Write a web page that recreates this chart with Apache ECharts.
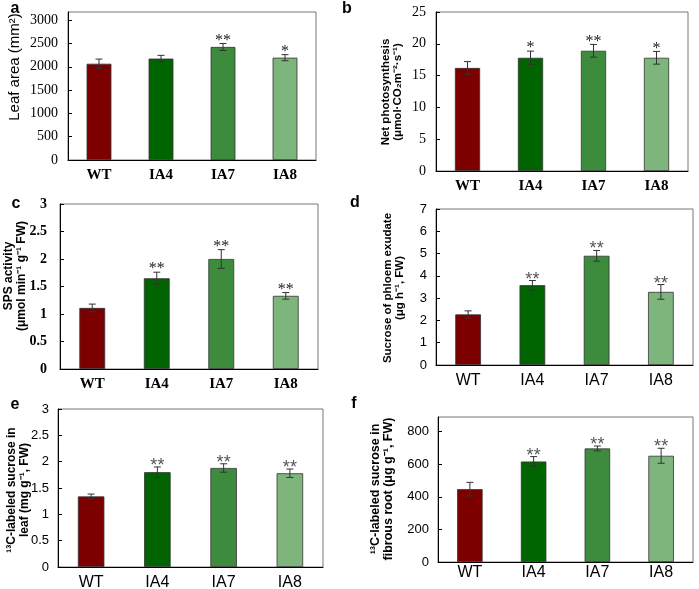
<!DOCTYPE html>
<html><head><meta charset="utf-8">
<script src="https://cdn.jsdelivr.net/npm/echarts@6/dist/echarts.min.js"></script>
<style>html,body{margin:0;padding:0;background:#fff}#c{width:699px;height:589px}</style>
</head><body><div id="c"></div>
<script>
const categories = ['WT', 'IA4', 'IA7', 'IA8'];
const barColors = ['#7d0000', '#006400', '#3d8c3d', '#7db57d'];

const leafArea = [2065, 2175, 2425, 2195];
const leafAreaErr = [100, 70, 75, 65];
const leafAreaSig = ['', '', '**', '*'];

const photosynthesis = [16.2, 17.8, 18.9, 17.8];
const photosynthesisErr = [1.0, 1.05, 1.0, 1.0];
const photosynthesisSig = ['', '*', '**', '*'];

const spsActivity = [1.11, 1.65, 2.0, 1.33];
const spsActivityErr = [0.07, 0.11, 0.17, 0.06];
const spsActivitySig = ['', '**', '**', '**'];

const phloemSucrose = [2.27, 3.58, 4.9, 3.28];
const phloemSucroseErr = [0.16, 0.21, 0.24, 0.33];
const phloemSucroseSig = ['', '**', '**', '**'];

const leafC13 = [1.34, 1.8, 1.88, 1.78];
const leafC13Err = [0.045, 0.1, 0.08, 0.08];
const leafC13Sig = ['', '**', '**', '**'];

const rootC13 = [447, 617, 697, 652];
const rootC13Err = [42, 30, 15, 46];
const rootC13Sig = ['', '**', '**', '**'];

const SERIF = '"Liberation Serif", "Times New Roman", serif';
const SANS = '"Liberation Sans", Arial, sans-serif';

const panels = [
  {vals: leafArea, err: leafAreaErr, sig: leafAreaSig, max: 3175, interval: 500,
   grid: {left: 68, top: 12, width: 248, height: 148}, font: SERIF, tickW: 'normal', tickSize: 14,
   catSize: 15, catW: 'bold', catMargin: 8, starFont: '16px ' + SERIF, starColor: '#222', starOff: 3, labelMargin: 10},
  {vals: photosynthesis, err: photosynthesisErr, sig: photosynthesisSig, max: 25, interval: 5,
   grid: {left: 436, top: 12, width: 252, height: 159}, font: SERIF, tickW: 'normal', tickSize: 14,
   catSize: 15, catW: 'bold', catMargin: 8, starFont: '16px ' + SERIF, starColor: '#222', starOff: 3, labelMargin: 10},
  {vals: spsActivity, err: spsActivityErr, sig: spsActivitySig, max: 3, interval: 0.5,
   grid: {left: 60, top: 204, width: 258, height: 165}, font: SERIF, tickW: 'bold', tickSize: 14,
   catSize: 15, catW: 'bold', catMargin: 8, starFont: '16px ' + SERIF, starColor: '#222', starOff: 3, labelMargin: 13},
  {vals: phloemSucrose, err: phloemSucroseErr, sig: phloemSucroseSig, max: 7, interval: 1,
   grid: {left: 436, top: 209, width: 257, height: 156}, font: SANS, tickW: 'normal', tickSize: 13,
   catSize: 16, catW: 'normal', catMargin: 8, starFont: '18px ' + SANS, starColor: '#555', starOff: 1, labelMargin: 9},
  {vals: leafC13, err: leafC13Err, sig: leafC13Sig, max: 3, interval: 0.5,
   grid: {left: 58, top: 409, width: 265, height: 158}, font: SANS, tickW: 'normal', tickSize: 13,
   catSize: 16, catW: 'normal', catMargin: 8, starFont: '18px ' + SANS, starColor: '#555', starOff: 1, labelMargin: 9},
  {vals: rootC13, err: rootC13Err, sig: rootC13Sig, max: 890, interval: 200,
   grid: {left: 438, top: 417, width: 255, height: 145}, font: SANS, tickW: 'normal', tickSize: 13,
   catSize: 16, catW: 'normal', catMargin: 3, starFont: '18px ' + SANS, starColor: '#555', starOff: 1, labelMargin: 9}
];

const grids = [], xAxes = [], yAxes = [], series = [];
panels.forEach((p, k) => {
  grids.push(Object.assign({show: true, borderColor: '#777', borderWidth: 1, containLabel: false, outerBoundsMode: 'none'}, p.grid));
  xAxes.push({
    type: 'category', gridIndex: k, data: categories,
    axisLine: {lineStyle: {color: '#000', width: 1}},
    axisTick: {inside: true, length: 4, lineStyle: {color: '#000'}},
    axisLabel: {color: '#000', fontFamily: p.font, fontSize: p.catSize, fontWeight: p.catW, margin: p.catMargin}
  });
  yAxes.push({
    type: 'value', gridIndex: k, min: 0, max: p.max, interval: p.interval,
    splitLine: {show: false},
    axisLine: {show: true, lineStyle: {color: '#000', width: 1}},
    axisTick: {show: true, inside: true, length: 4, lineStyle: {color: '#000'}},
    axisLabel: {color: '#000', fontFamily: p.font, fontSize: p.tickSize, fontWeight: p.tickW,
      margin: p.labelMargin, showMaxLabel: (p.max % p.interval === 0),
      formatter: function (v) { return String(+v.toFixed(2)); }}
  });
  series.push({
    type: 'bar', xAxisIndex: k, yAxisIndex: k, barWidth: '40%', silent: true,
    data: p.vals.map((v, i) => ({value: v, itemStyle: {color: barColors[i]}})),
    itemStyle: {borderColor: '#333', borderWidth: 0.8}
  });
  const sigs = p.sig;
  series.push({
    type: 'custom', xAxisIndex: k, yAxisIndex: k, silent: true, z: 5,
    data: p.vals.map((v, i) => [i, v, p.err[i]]),
    renderItem: function (params, api) {
      const i = api.value(0), v = api.value(1), e = api.value(2);
      const top = api.coord([i, v + e]);
      const bot = api.coord([i, v - e]);
      const x = top[0], c = 3.5;
      const ls = {stroke: '#333', lineWidth: 1};
      const children = [
        {type: 'line', shape: {x1: x, y1: top[1], x2: x, y2: bot[1]}, style: ls},
        {type: 'line', shape: {x1: x - c, y1: top[1], x2: x + c, y2: top[1]}, style: ls},
        {type: 'line', shape: {x1: x - c, y1: bot[1], x2: x + c, y2: bot[1]}, style: ls}
      ];
      const s = sigs[params.dataIndex];
      if (s) {
        children.push({type: 'text', x: x, y: top[1] - p.starOff,
          style: {text: s, font: p.starFont, fill: p.starColor, align: 'center', verticalAlign: 'middle',
                  textAlign: 'center', textVerticalAlign: 'middle'}});
      }
      return {type: 'group', children: children};
    }
  });
});

function vtext(x, y, text, font) {
  return {type: 'text', x: x, y: y, rotation: Math.PI / 2,
    style: {text: text, font: font, fill: '#000', align: 'center', verticalAlign: 'middle',
            textAlign: 'center', textVerticalAlign: 'middle'}};
}
function letter(x, y, t) {
  return {type: 'text', x: x, y: y,
    style: {text: t, font: 'bold 16px ' + SANS, fill: '#000', align: 'center', verticalAlign: 'middle',
            textAlign: 'center', textVerticalAlign: 'middle'}};
}
const B12 = 'bold 11.5px ' + SANS;
const graphics = [
  letter(15, 9, 'a'), letter(347, 9, 'b'), letter(16, 204, 'c'),
  letter(355, 203, 'd'), letter(15, 405, 'e'), letter(354, 404, 'f'),
  vtext(15, 67, 'Leaf area (mm²)', '15px ' + SANS),
  vtext(386, 92, 'Net photosynthesis', B12),
  vtext(398, 92, '(μmol·CO₂m⁻²·s⁻¹)', B12),
  vtext(9, 276, 'SPS activity', 'bold 12px ' + SANS),
  vtext(22, 276, '(μmol min⁻¹ g⁻¹ FW)', 'bold 12px ' + SANS),
  vtext(388, 288, 'Sucrose of phloem exudate', B12),
  vtext(400, 288, '(μg h⁻¹, FW)', B12),
  vtext(12, 490, '¹³C-labeled sucrose in', 'bold 12px ' + SANS),
  vtext(25, 490, 'leaf (mg g⁻¹, FW)', 'bold 12px ' + SANS),
  vtext(376, 489, '¹³C-labeled sucrose in', 'bold 12.5px ' + SANS),
  vtext(389, 489, 'fibrous root (μg g⁻¹, FW)', 'bold 12.5px ' + SANS)
];

const chart = echarts.init(document.getElementById('c'), null, {renderer: 'canvas'});
chart.setOption({
  animation: false,
  backgroundColor: '#fff',
  grid: grids, xAxis: xAxes, yAxis: yAxes, series: series,
  graphic: graphics
});
</script>
</body></html>
